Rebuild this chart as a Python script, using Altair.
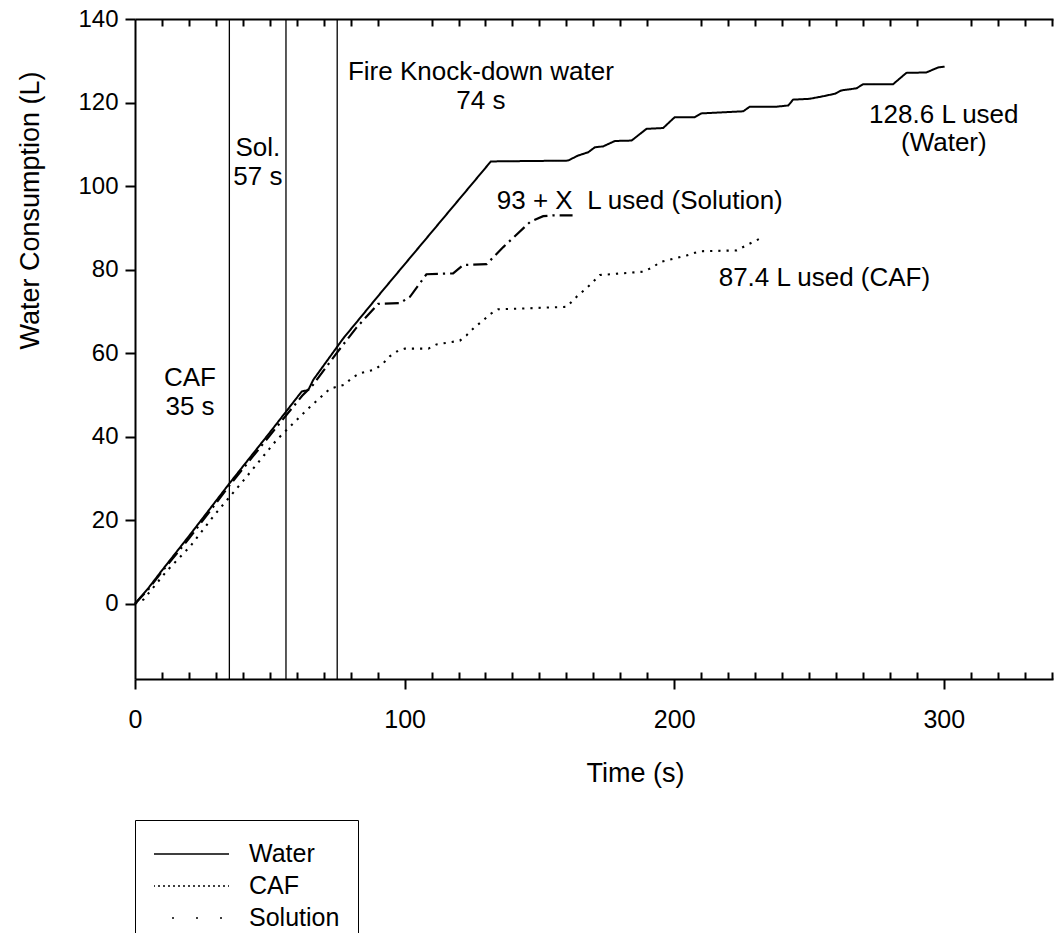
import altair as alt
import pandas as pd

FONT = "Liberation Sans"

# ---------------- data ----------------
series_names = ["Water", "CAF", "Solution"]

water_t = [0, 5, 10, 20, 35, 50, 61.8, 64.3, 66.1, 77.2, 92.0, 132.0, 160.6, 164.3, 168.1,
           170.6, 173.6, 178.0, 184.2, 189.7, 195.9, 200.2, 207.6, 210.1, 225.6, 228.0,
           237.9, 242.3, 244.1, 250.3, 255.2, 259.6, 262.0, 267.6, 270.1, 281.2, 286.1,
           293.5, 297.9, 300.3]
water_v = [0, 3.8, 8.0, 16.2, 28.8, 41.0, 50.8, 51.2, 53.6, 63.5, 75.1, 105.9, 106.1, 107.3,
           108.1, 109.3, 109.5, 110.8, 110.9, 113.7, 113.9, 116.5, 116.5, 117.4, 117.9, 119.0,
           119.0, 119.3, 120.7, 120.9, 121.5, 122.1, 122.9, 123.4, 124.4, 124.4, 127.1,
           127.2, 128.4, 128.6]

sol_t = [0, 5, 10, 20, 35, 50, 62, 66, 75, 82, 90.2, 98.3, 102.0, 108.1, 118.0, 121.7,
         130.4, 136.6, 146.5, 151.4, 155.0, 162.3]
sol_v = [0, 3.5, 7.7, 15.6, 28.3, 40.3, 49.8, 52.4, 60.2, 66.0, 71.8, 72.0, 73.5, 78.9,
         79.1, 81.1, 81.3, 85.4, 91.4, 92.8, 93.0, 93.0]

caf_t = [0, 3.1, 11.7, 20.4, 29.0, 34.6, 40.2, 52.5, 55.6, 63.7, 72.3, 77.9, 80.3, 83.4,
         89.0, 92.1, 94.6, 97.6, 100.1, 108.8, 111.8, 120.5, 123.0, 126.1, 128.9, 131.6,
         134.7, 144.0, 160.1, 163.8, 168.7, 172.4, 188.4, 192.2, 194.7, 204.6, 209.5,
         223.1, 226.7, 231.7]
caf_v = [0, 1.0, 7.8, 13.7, 20.9, 25.2, 29.5, 39.2, 41.2, 46.4, 51.5, 52.5, 54.0, 55.2,
         56.1, 57.6, 59.3, 60.6, 61.1, 61.1, 62.1, 63.0, 64.3, 66.3, 67.7, 69.3, 70.5,
         70.7, 71.1, 73.5, 76.3, 78.7, 79.5, 80.6, 81.8, 83.4, 84.4, 84.6, 85.8, 87.4]

event_times = [35, 56, 75]

center_labels = ["CAF", "35 s", "Sol.", "57 s", "Fire Knock-down water", "74 s",
                 "128.6 L used", "(Water)"]
center_x = [20.4, 20.4, 45.6, 45.6, 128.3, 128.3, 300.0, 300.0]
center_y = [54.0, 47.1, 109.0, 102.1, 127.2, 120.4, 116.9, 110.2]

left_labels = ["93 + X\u00a0 L used (Solution)", "87.4 L used (CAF)"]
left_x = [134.2, 216.5]
left_y = [96.5, 78.1]

x_major_ticks = [0, 100, 200, 300]
x_minor_ticks = [10, 20, 30, 40, 50, 60, 70, 80, 90, 110, 120, 130, 140, 150, 160, 170,
                 180, 190, 210, 220, 230, 240, 250, 260, 270, 280, 290, 310, 320, 330, 340]
y_ticks = [0, 20, 40, 60, 80, 100, 120, 140]

line_dashes = [[1, 0], [2.2, 6], [14, 5, 2.2, 5]]
line_widths = [2.0, 2.2, 2.0]
legend_dashes = [[1, 0], [2, 3], [2, 22]]

# ---------------- tables ----------------
rows = []
for name, ts, vs in [("Water", water_t, water_v), ("CAF", caf_t, caf_v),
                     ("Solution", sol_t, sol_v)]:
    for t, v in zip(ts, vs):
        rows.append({"series": name, "time": t, "volume": v})
df = pd.DataFrame(rows)

events_df = pd.DataFrame({"t": event_times})
center_df = pd.DataFrame({"label": center_labels, "x": center_x, "y": center_y})
left_df = pd.DataFrame({"label": left_labels, "x": left_x, "y": left_y})

x_scale = alt.Scale(domain=[0, 340.5], nice=False, zero=False)
y_scale = alt.Scale(domain=[-18, 140], nice=False, zero=False)

inward = alt.ExprRef(expr="-7")

major_x_axis = alt.Axis(
    orient="bottom", values=x_major_ticks, tickSize=10, tickWidth=2, tickColor="black",
    domainWidth=2, domainColor="black", grid=False, labelFont=FONT, labelFontSize=25,
    labelColor="black", labelPadding=18, labelFlush=False, labelOverlap=False,
    title="Time (s)", titleFont=FONT, titleFontSize=27, titleFontWeight="normal",
    titleColor="black", titleX=500, titleY=94, titleAlign="center", titleBaseline="middle",
)
minor_bottom_axis = alt.Axis(
    orient="bottom", values=x_minor_ticks, tickSize=inward, tickWidth=2, tickColor="black",
    labels=False, domain=False, grid=False, title=None,
)
top_axis = alt.Axis(
    orient="top", values=x_minor_ticks, tickSize=inward, tickWidth=2, tickColor="black",
    labels=False, domain=True, domainWidth=2, domainColor="black", grid=False, title=None,
)
y_axis = alt.Axis(
    values=y_ticks, tickSize=10, tickWidth=2, tickColor="black", domainWidth=2,
    domainColor="black", grid=False, labelFont=FONT, labelFontSize=24, labelColor="black",
    labelPadding=7, labelFlush=False, labelOverlap=False,
    title="Water Consumption (L)", titleFont=FONT, titleFontSize=27,
    titleFontWeight="normal", titleColor="black", titleX=-105, titleY=191,
    titleAngle=270, titleAlign="center", titleBaseline="middle",
)

rules = alt.Chart(events_df).mark_rule(color="black", strokeWidth=1.3).encode(
    x=alt.X("t:Q", scale=x_scale, axis=minor_bottom_axis)
)

lines = alt.Chart(df).mark_line(color="black").encode(
    x=alt.X("time:Q", scale=x_scale, axis=major_x_axis),
    y=alt.Y("volume:Q", scale=y_scale, axis=y_axis),
    strokeDash=alt.StrokeDash("series:N",
                              scale=alt.Scale(domain=series_names, range=line_dashes),
                              legend=None),
    strokeWidth=alt.StrokeWidth("series:N",
                                scale=alt.Scale(domain=series_names, range=line_widths),
                                legend=None),
)

legend_layer = alt.Chart(df).transform_filter("false").mark_line(color="black").encode(
    x=alt.X("time:Q", scale=x_scale, axis=top_axis),
    y=alt.Y("volume:Q", scale=y_scale, axis=None),
    strokeDash=alt.StrokeDash(
        "series:N",
        scale=alt.Scale(domain=series_names, range=legend_dashes),
        legend=alt.Legend(
            title=None, orient="none", legendX=0, legendY=801, direction="vertical",
            symbolType="stroke", symbolSize=5625, symbolStrokeWidth=1.5,
            symbolStrokeColor="black", symbolDashOffset=6, clipHeight=32, rowPadding=0,
            labelFont=FONT, labelFontSize=25, labelColor="black", labelOffset=19,
            labelLimit=400, padding=18, strokeColor="black", fillColor="white",
        ),
    ),
)

text_center = alt.Chart(center_df).mark_text(
    font=FONT, fontSize=26, align="center", baseline="middle", color="black"
).encode(
    x=alt.X("x:Q", scale=x_scale, axis=None),
    y=alt.Y("y:Q", scale=y_scale, axis=None),
    text="label:N",
)

text_left = alt.Chart(left_df).mark_text(
    font=FONT, fontSize=26, align="left", baseline="middle", color="black"
).encode(
    x=alt.X("x:Q", scale=x_scale, axis=None),
    y=alt.Y("y:Q", scale=y_scale, axis=None),
    text="label:N",
)

chart = alt.layer(rules, lines, legend_layer, text_center, text_left).resolve_scale(
    strokeDash="independent", strokeWidth="independent"
).resolve_axis(
    x="independent", y="independent"
).properties(
    width=918, height=660,
    autosize=alt.AutoSizeParams(type="none"),
    padding={"left": 127, "top": 11, "right": 1, "bottom": 254},
    background="white",
).configure_view(strokeWidth=0)

chart.save("out.html", embed_options={"renderer": "svg", "actions": False})
